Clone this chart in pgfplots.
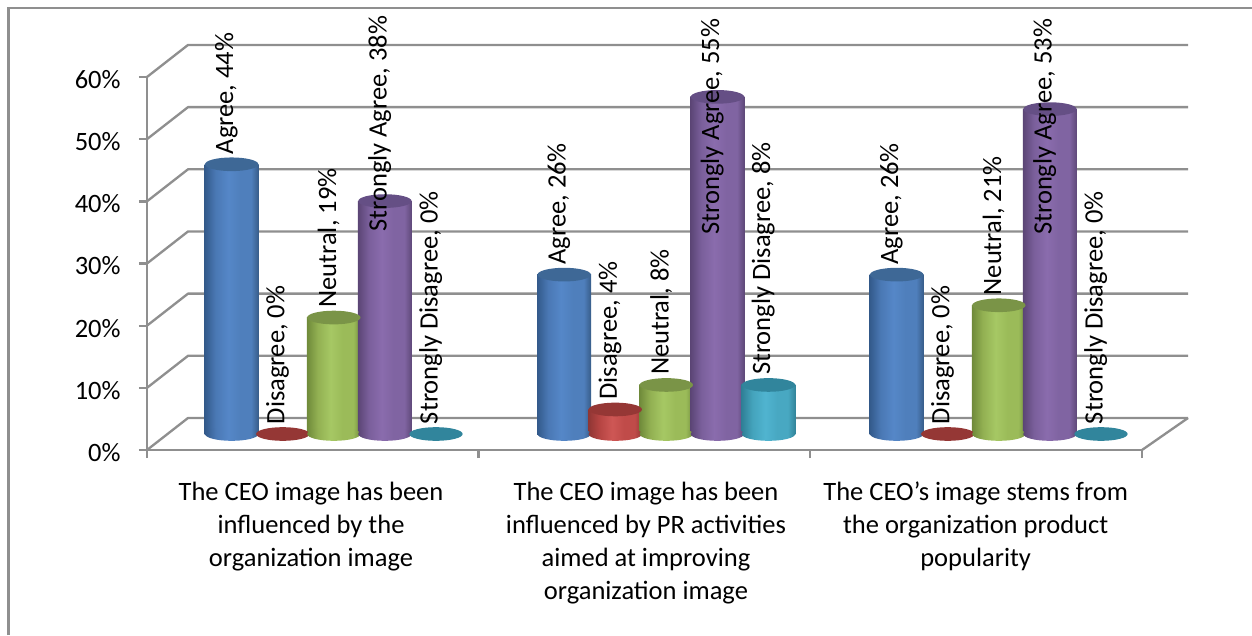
\documentclass[border=0pt]{standalone}
\usepackage{pgfplots}
\usepackage{fontspec}
\setmainfont{Carlito}
\pgfplotsset{compat=1.18}

\newcommand{\defcyl}[7]{% name, edgeL, mid1, light, mid2, edgeR, cap
  \definecolor{#1cap}{HTML}{#7}
  \definecolor{#1eL}{HTML}{#2}\definecolor{#1mA}{HTML}{#3}\definecolor{#1li}{HTML}{#4}
  \definecolor{#1mB}{HTML}{#5}\definecolor{#1eR}{HTML}{#6}
  \pgfdeclarehorizontalshading{#1shade}{100bp}{%
    color(0bp)=(#1eL); color(25bp)=(#1eL); color(35bp)=(#1mA); color(47bp)=(#1li);
    color(58bp)=(#1mB); color(68bp)=(#1mB); color(75bp)=(#1eR); color(100bp)=(#1eR)}
  \pgfdeclareplotmark{#1top}{\path[draw=none,fill=#1cap,rotate=5] (0pt,0pt) ellipse [x radius=16pt,y radius=4.1pt];}
  \pgfdeclareplotmark{#1base}{\path[draw=none,shading=#1shade,rotate=5] (0pt,0pt) ellipse [x radius=16pt,y radius=4.1pt];}
}
\defcyl{bl}{335A8B}{4A78B4}{5587C8}{4F7FBC}{375C88}{3E6896}
\defcyl{rd}{8F3634}{B54442}{CE5755}{C04B49}{933836}{953735}
\defcyl{gr}{6F8A3A}{92B052}{A6C864}{9BBB59}{728D3E}{7A9447}
\defcyl{pu}{5B4575}{7A5F9B}{8A6CAD}{8064A2}{5E4878}{654F85}
\defcyl{cy}{2F7F96}{44A3BC}{50B4D0}{48A8C2}{328499}{31859C}

\newcommand{\lab}{\fontsize{15.9}{19}\selectfont}
% one cylinder: colour, x position, value
\newcommand{\cyl}[3]{%
  \addplot[only marks,mark=#1base,forget plot] coordinates {(#2,0)};
  \addplot[ybar,bar shift=0pt,bar width=32.4pt,draw=none,shading=#1shade,forget plot] coordinates {(#2,#3)};
  \addplot[only marks,mark=#1top,forget plot] coordinates {(#2,#3)};
}
% a category of value 0: only the flat disc
\newcommand{\disc}[2]{%
  \addplot[only marks,mark=#1top,forget plot] coordinates {(#2,0)};
}
% data label: text, x position, value, vertical offset
\newcommand{\datalabel}[4][5.8pt]{%
  \addplot[only marks,mark=none,forget plot,
    nodes near coords={#2, \pgfmathprintnumber{\pgfplotspointmeta}\%},
    every node near coord/.style={text=black,font=\lab,xshift=-3.2pt,yshift=#1,rotate=90,anchor=west,inner sep=0pt}]
    coordinates {(#3,#4)};
}
\definecolor{wall}{HTML}{8F8F8F}

\begin{document}
\begin{tikzpicture}[x=0.6pt,y=0.6pt]
\path[use as bounding box] (0,0) rectangle (1252,635);
\draw[wall,line width=1.7pt] (8.5,0) -- (8.5,627) -- (1252,627);
\foreach \v in {0,...,6}{
  \draw[wall,line width=1.4pt,line join=round] (147,185+\v*62.17) -- (188,217+\v*62.17) -- (1188,217+\v*62.17);
}
\draw[wall,line width=1.4pt] (1142,185) -- (1188,217);

\begin{axis}[
  at={(88.2pt,111pt)},anchor=south west,
  scale only axis,width=597pt,height=223.8pt,
  xmin=0,xmax=3,ymin=0,ymax=60,clip=false,
  axis x line=bottom,axis y line=left,
  axis line style={wall,line width=1.7pt,-},
  tick style={wall,line width=1.4pt},
  major tick length=4.8pt,
  tick align=outside,
  xtick={0,1,2,3},xticklabels={},
  extra x ticks={0.4945,1.5045,2.4985},
  extra x tick style={major tick length=0pt,tick style={draw=none}},
  extra x tick labels={{The CEO image has been\\influenced by the\\organization image},
    {The CEO image has been\\influenced by PR activities\\aimed at improving\\organization image},
    {The CEO’s image stems from\\the organization product\\popularity}},
  xticklabel style={align=center,font=\fontsize{15.9}{19.8}\selectfont,anchor=north,yshift=-15.6pt},
  ytick={0,10,...,60},
  yticklabel={\pgfmathprintnumber{\tick}\%},
  yticklabel style={font=\fontsize{15.9}{19}\selectfont,anchor=east,xshift=-7.5pt,yshift=-1.5pt},
  /pgf/number format/assume math mode=true,
]
\end{axis}

\begin{axis}[
  at={(88.7pt,120.6pt)},anchor=south west,
  scale only axis,width=597pt,height=220.68pt,
  xmin=-0.5594,xmax=2.433,ymin=0,ymax=60,clip=false,hide axis,
  /pgf/number format/assume math mode=true,
]
% first group
\cyl{bl}{-0.3072}{44}
\disc{rd}{-0.1536}
\cyl{gr}{0}{19}
\cyl{pu}{0.1536}{38}
\disc{cy}{0.3072}
% second group
\cyl{bl}{0.6928}{26}
\cyl{rd}{0.8464}{4}
\cyl{gr}{1}{8}
\cyl{pu}{1.1536}{55}
\cyl{cy}{1.3072}{8}
% third group
\cyl{bl}{1.6928}{26}
\disc{rd}{1.8464}
\cyl{gr}{2}{21}
\cyl{pu}{2.1536}{53}
\disc{cy}{2.3072}
% data labels
\datalabel{Agree}{-0.3072}{44}
\datalabel{Disagree}{-0.1536}{0}
\datalabel{Neutral}{0}{19}
\datalabel[-18.6pt]{Strongly Agree}{0.1536}{38}
\datalabel{Strongly Disagree}{0.3072}{0}
\datalabel{Agree}{0.6928}{26}
\datalabel{Disagree}{0.8464}{4}
\datalabel{Neutral}{1}{8}
\datalabel[-82.8pt]{Strongly Agree}{1.1536}{55}
\datalabel{Strongly Disagree}{1.3072}{8}
\datalabel{Agree}{1.6928}{26}
\datalabel{Disagree}{1.8464}{0}
\datalabel{Neutral}{2}{21}
\datalabel[-75.6pt]{Strongly Agree}{2.1536}{53}
\datalabel{Strongly Disagree}{2.3072}{0}
\end{axis}
\end{tikzpicture}
\end{document}
